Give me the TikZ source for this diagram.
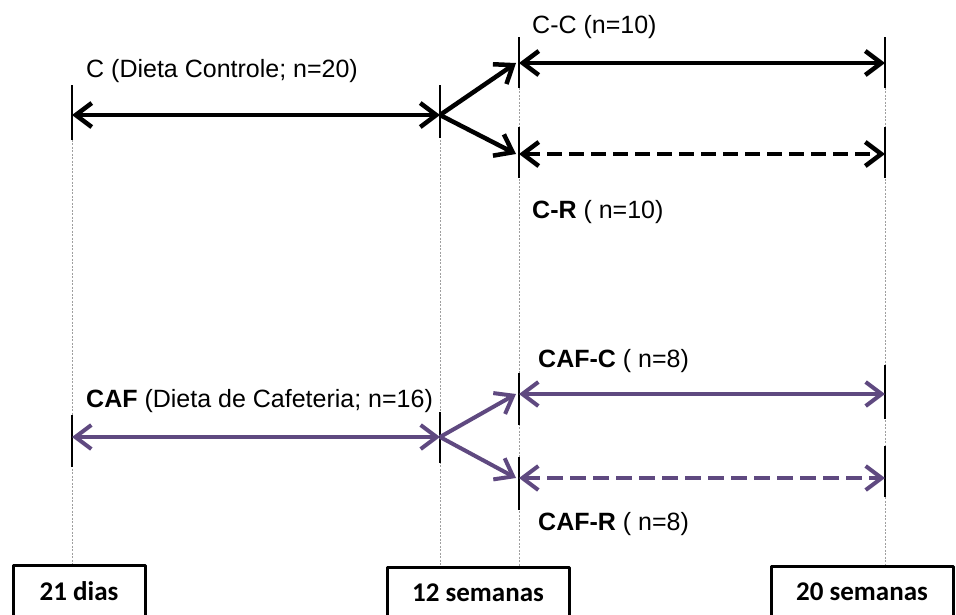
\documentclass[tikz,border=0pt]{standalone}
\usepackage{fontspec}
\setmainfont{Liberation Sans}
\newfontfamily\calibrifont{Carlito}
\usetikzlibrary{arrows.meta}
\definecolor{cafpurple}{RGB}{95,73,128}

\begin{document}
\begin{tikzpicture}[x=1pt,y=-1pt,>={Straight Barb[length=16pt,width=24pt]},
                    line join=round]
\tikzset{font=\fontsize{25pt}{30pt}\selectfont}
\tikzstyle{group}=[line width=4.5pt,<->]
\tikzstyle{cafgroup}=[group,line width=4pt,draw=cafpurple]
\tikzstyle{split}=[line width=4.5pt,->]
\tikzstyle{cafsplit}=[split,line width=4pt,draw=cafpurple]
\tikzstyle{tick}=[line width=2.5pt]
\tikzstyle{guide}=[gray!75,line width=0.8pt,dash pattern=on 2pt off 1.5pt]
\tikzstyle{timebox}=[draw,line width=3pt,minimum height=52pt,inner sep=0pt,
                     font=\calibrifont\bfseries\fontsize{27pt}{30pt}\selectfont]
\tikzstyle{lbl}=[anchor=base west,inner sep=0pt]

\useasboundingbox (0,0) rectangle (956,614);
\clip (0,0) rectangle (956,614);

% time points
\node[timebox,minimum width=132pt] (d21) at (79,591) {21 dias};
\node[timebox,minimum width=182pt] (s12) at (478,593) {12 semanas};
\node[timebox,minimum width=182pt] (s20) at (862,592) {20 semanas};

% ends of the arrows
\coordinate (c0)  at (72,115);
\coordinate (c1)  at (440,115);
\coordinate (cc0) at (519,63);
\coordinate (cc1) at (885,63);
\coordinate (cr0) at (519,154);
\coordinate (cr1) at (885,154);
\coordinate (f0)  at (72,437);
\coordinate (f1)  at (440,437);
\coordinate (fc0) at (519,394);
\coordinate (fc1) at (885,394);
\coordinate (fr0) at (519,478);
\coordinate (fr1) at (885,478);

\draw[guide] (c0)  -- (c0 |- d21.north);
\draw[guide] (c1)  -- (c1 |- s12.north);
\draw[guide] (cc0) -- (cc0 |- s12.north);
\draw[guide] (cc1) -- (cc1 |- s20.north);

\foreach \p/\a/\b in {c0/30/25, c1/30/23, cc0/26/25, cc1/26/25, cr0/27/24, cr1/27/24,
                      f0/22/30, f1/25/26, fc0/21/31, fc1/29/25, fr0/21/32, fr1/32/19}
  \draw[tick] ([yshift=\a pt]\p) -- ([yshift=-\b pt]\p);

% controle
\draw[group] (c0) -- (c1);
\draw[split] (c1) -- ([xshift=-3pt]cc0);
\draw[split] (c1) -- ([xshift=-3pt]cr0);
\draw[group] (cc0) -- (cc1);
\draw[group,dash pattern=on 15pt off 7pt] (cr0) -- (cr1);

% cafeteria
\draw[cafgroup] (f0) -- (f1);
\draw[cafsplit] (f1) -- ([xshift=-3pt]fc0);
\draw[cafsplit] (f1) -- ([xshift=-3pt]fr0);
\draw[cafgroup] (fc0) -- (fc1);
\draw[cafgroup,dash pattern=on 16pt off 7pt] (fr0) -- (fr1);

\node[lbl] (cl)  at (86,77)   {C (Dieta Controle; n=20)};
\node[lbl] (ccl) at (532,33)  {C-C (n=10)};
\node[lbl] (crl) at (532,218) {\textbf{C-R} ( n=10)};
\node[lbl] (fl)  at (86,407)  {\textbf{CAF} (Dieta de Cafeteria; n=16)};
\node[lbl] (fcl) at (538,367) {\textbf{CAF-C} ( n=8)};
\node[lbl] (frl) at (538,530) {\textbf{CAF-R} ( n=8)};
\end{tikzpicture}
\end{document}
